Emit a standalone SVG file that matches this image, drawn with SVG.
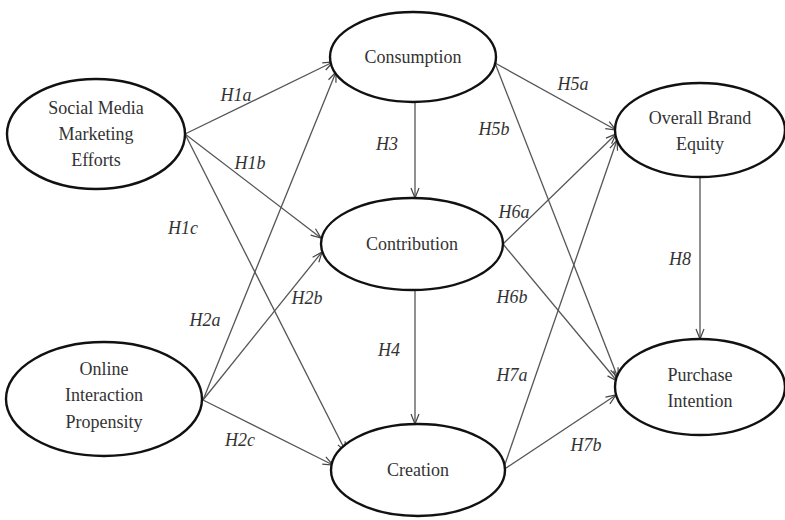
<svg xmlns="http://www.w3.org/2000/svg" width="785" height="520" viewBox="0 0 785 520">
  <defs>
    <!-- open chevron arrowhead shared by all paths -->
    <marker id="arrow" viewBox="0 0 12 10" refX="11" refY="5" markerWidth="12" markerHeight="10" markerUnits="userSpaceOnUse" orient="auto">
      <path d="M1,1 L11,5 L1,9" fill="none" stroke="#444" stroke-width="1.2"/>
    </marker>
  </defs>
  <style>
    .node ellipse { fill: #fff; stroke: #111; stroke-width: 2.4; }
    .node text { font-family: 'Liberation Serif', 'Times New Roman', 'DejaVu Serif', serif; font-size: 18px; fill: #333; text-anchor: middle; }
    .edge { stroke: #555; stroke-width: 1.3; fill: none; marker-end: url(#arrow); }
    .lbl { font-family: 'Liberation Serif', 'Times New Roman', 'DejaVu Serif', serif; font-style: italic; font-size: 18px; fill: #333; text-anchor: middle; }
  </style>
  <rect width="785" height="520" fill="#fff"/>

  <!-- hypothesised paths -->
  <g id="connectors">
    <line class="edge" x1="185" y1="134" x2="333" y2="62"/>
    <line class="edge" x1="185" y1="134" x2="321" y2="238"/>
    <line class="edge" x1="185" y1="134" x2="346" y2="452"/>
    <line class="edge" x1="203" y1="400" x2="336" y2="72"/>
    <line class="edge" x1="203" y1="400" x2="322" y2="252"/>
    <line class="edge" x1="203" y1="400" x2="333" y2="465"/>
    <line class="edge" x1="415" y1="102" x2="415" y2="198"/>
    <line class="edge" x1="415" y1="290" x2="415" y2="424"/>
    <line class="edge" x1="495" y1="63" x2="616" y2="130"/>
    <line class="edge" x1="495" y1="63" x2="618" y2="378"/>
    <line class="edge" x1="503" y1="244" x2="616" y2="134"/>
    <line class="edge" x1="503" y1="244" x2="617" y2="381"/>
    <line class="edge" x1="503" y1="470" x2="617" y2="140"/>
    <line class="edge" x1="503" y1="470" x2="616" y2="395"/>
    <line class="edge" x1="700" y1="177" x2="700" y2="339"/>
  </g>

  <!-- path labels -->
  <g id="labels">
    <text class="lbl" x="236" y="101">H1a</text>
    <text class="lbl" x="250" y="169">H1b</text>
    <text class="lbl" x="183" y="234">H1c</text>
    <text class="lbl" x="205" y="326">H2a</text>
    <text class="lbl" x="307" y="304">H2b</text>
    <text class="lbl" x="240" y="446">H2c</text>
    <text class="lbl" x="387" y="150">H3</text>
    <text class="lbl" x="389" y="356">H4</text>
    <text class="lbl" x="573" y="90">H5a</text>
    <text class="lbl" x="494" y="135">H5b</text>
    <text class="lbl" x="514" y="218">H6a</text>
    <text class="lbl" x="512" y="303">H6b</text>
    <text class="lbl" x="512" y="381">H7a</text>
    <text class="lbl" x="586" y="451">H7b</text>
    <text class="lbl" x="680" y="265">H8</text>
  </g>

  <!-- constructs -->
  <g id="social-media" class="node">
    <ellipse cx="96" cy="134" rx="89" ry="55"/>
    <text x="96" y="114">Social Media</text>
    <text x="96" y="140">Marketing</text>
    <text x="96" y="166">Efforts</text>
  </g>
  <g id="online-interaction" class="node">
    <ellipse cx="104" cy="399" rx="98" ry="57"/>
    <text x="104" y="375">Online</text>
    <text x="104" y="401">Interaction</text>
    <text x="104" y="428">Propensity</text>
  </g>
  <g id="consumption" class="node">
    <ellipse cx="413" cy="57" rx="83" ry="45"/>
    <text x="413" y="63">Consumption</text>
  </g>
  <g id="contribution" class="node">
    <ellipse cx="412" cy="244" rx="91" ry="46"/>
    <text x="412" y="250">Contribution</text>
  </g>
  <g id="creation" class="node">
    <ellipse cx="418" cy="470" rx="87" ry="46"/>
    <text x="418" y="476">Creation</text>
  </g>
  <g id="brand-equity" class="node">
    <ellipse cx="700" cy="130" rx="85" ry="47"/>
    <text x="700" y="124">Overall Brand</text>
    <text x="700" y="150">Equity</text>
  </g>
  <g id="purchase-intention" class="node">
    <ellipse cx="700" cy="387" rx="85" ry="48"/>
    <text x="700" y="381">Purchase</text>
    <text x="700" y="407">Intention</text>
  </g>
</svg>
